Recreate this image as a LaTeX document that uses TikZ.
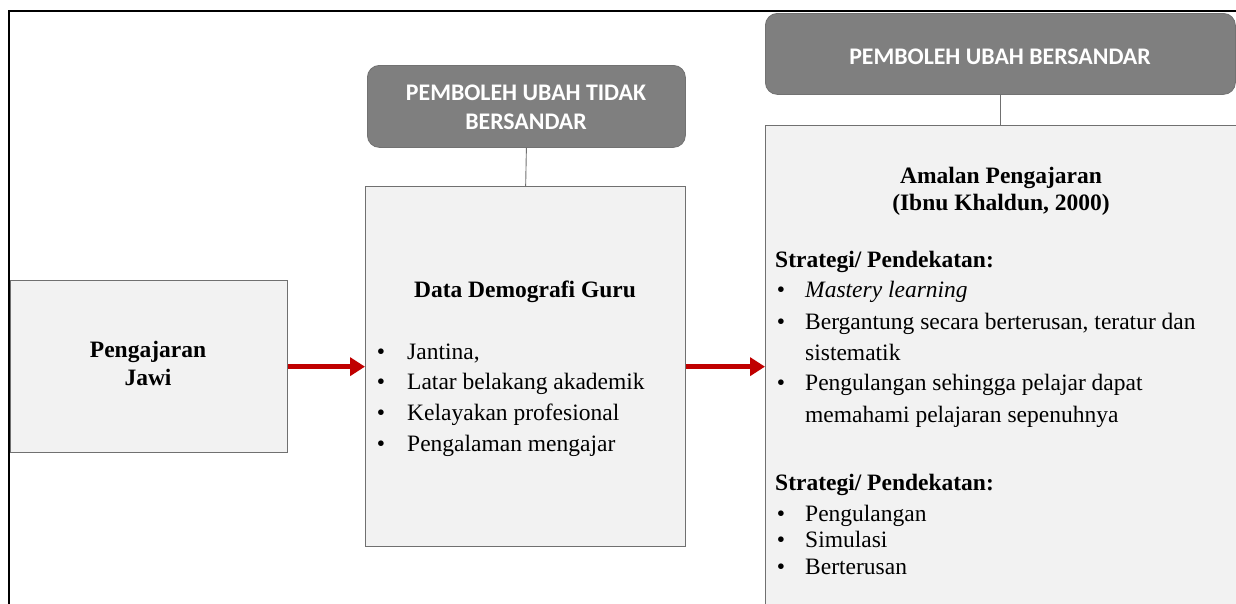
\documentclass[tikz,border=0pt]{standalone}
\usepackage{fontspec}
\setmainfont{Liberation Serif}
\newfontfamily\hdrfont{Carlito}
\usetikzlibrary{arrows.meta}
\definecolor{hdrgray}{HTML}{7F7F7F}
\definecolor{boxfill}{HTML}{F2F2F2}
\definecolor{boxline}{HTML}{707070}
\definecolor{arrowred}{HTML}{C00000}
\tikzset{
  hdrbox/.style={draw=hdrgray!90!black, fill=hdrgray, rounded corners=12pt, line width=0.8pt, anchor=north west, inner sep=0pt},
  mainbox/.style={draw=boxline, fill=boxfill, line width=1.3pt, anchor=north west, inner sep=0pt},
  hdrtext/.style={font=\hdrfont\bfseries\fontsize{23.8}{29}\selectfont, text=white, anchor=base, inner sep=0pt},
  bodytext/.style={font=\fontsize{23.5}{31}\selectfont, anchor=base west, inner sep=0pt},
  boldtext/.style={font=\bfseries\fontsize{23.5}{31}\selectfont, inner sep=0pt},
  bul/.style={font=\fontsize{23.5}{31}\selectfont, anchor=base, inner sep=0pt},
  link/.style={draw=boxline, line width=0.9pt},
  redarrow/.style={draw=arrowred, line width=5.5pt, -{Triangle[length=15pt,width=18pt]}},
}
\begin{document}
\begin{tikzpicture}[x=1pt,y=-1pt]
\useasboundingbox (0,0) rectangle (1236,603);
\clip (0,0) rectangle (1236,603);
% outer frame (only top and left visible)
\draw[line width=2.8pt] (9,640) -- (9,11) -- (1260,11);

% headers
\node[hdrbox, minimum width=318pt, minimum height=82pt] (h1) at (367,65) {};
\node[hdrbox, minimum width=470pt, minimum height=81pt] (h2) at (765,13) {};
\node[hdrtext] (h1a) at (526,100) {PEMBOLEH UBAH TIDAK};
\node[hdrtext] (h1b) at (526,129) {BERSANDAR};
\node[hdrtext] (h2a) at (1000,64) {PEMBOLEH UBAH BERSANDAR};

% boxes
\node[mainbox, minimum width=277pt, minimum height=172pt] (jawi) at (10,280) {};
\node[mainbox, minimum width=320pt, minimum height=360pt] (demo) at (365,186) {};
\node[mainbox, minimum width=500pt, minimum height=520pt] (amal) at (765,125) {};

% connectors
\draw[link] (h1.south) -- (demo.north);
\draw[link] (h2.south) -- (h2.south |- amal.north);
\draw[redarrow] (jawi.east) -- (jawi.east -| demo.west);
\draw[redarrow] (jawi.east -| demo.east) -- (jawi.east -| amal.west);

% left box text
\node[boldtext, anchor=base] (t1) at (148,357) {Pengajaran};
\node[boldtext, anchor=base] (t2) at (148,385) {Jawi};

% middle box text
\node[boldtext, anchor=base] (d0) at (525,297) {Data Demografi Guru};
\foreach \y/\t [count=\i] in {359/{Jantina,}, 389/{Latar belakang akademik}, 420/{Kelayakan profesional}, 451/{Pengalaman mengajar}}{
  \node[bul] (db\i) at (381,\y) {\textbullet};
  \node[bodytext] (dt\i) at (407,\y) {\t};
}

% right box text
\node[boldtext, anchor=base] (a1) at (1001,183) {Amalan Pengajaran};
\node[boldtext, anchor=base] (a2) at (1001,210) {(Ibnu Khaldun, 2000)};
\node[boldtext, anchor=base west] (s1) at (775,267) {Strategi/ Pendekatan:};
\node[bul] (b1) at (781,297) {\textbullet};
\node[bodytext] (r1) at (805,297) {\itshape Mastery learning};
\node[bul] (b2) at (781,329) {\textbullet};
\node[bodytext] (r2) at (805,329) {Bergantung secara berterusan, teratur dan};
\node[bodytext] (r2b) at (805,360) {sistematik};
\node[bul] (b3) at (781,390) {\textbullet};
\node[bodytext] (r3) at (805,390) {Pengulangan sehingga pelajar dapat};
\node[bodytext] (r3b) at (805,422) {memahami pelajaran sepenuhnya};
\node[boldtext, anchor=base west] (s2) at (775,490) {Strategi/ Pendekatan:};
\foreach \y/\t [count=\i] in {521/Pengulangan, 547/Simulasi, 574/Berterusan}{
  \node[bul] (sb\i) at (781,\y) {\textbullet};
  \node[bodytext] (st\i) at (805,\y) {\t};
}
\end{tikzpicture}
\end{document}
